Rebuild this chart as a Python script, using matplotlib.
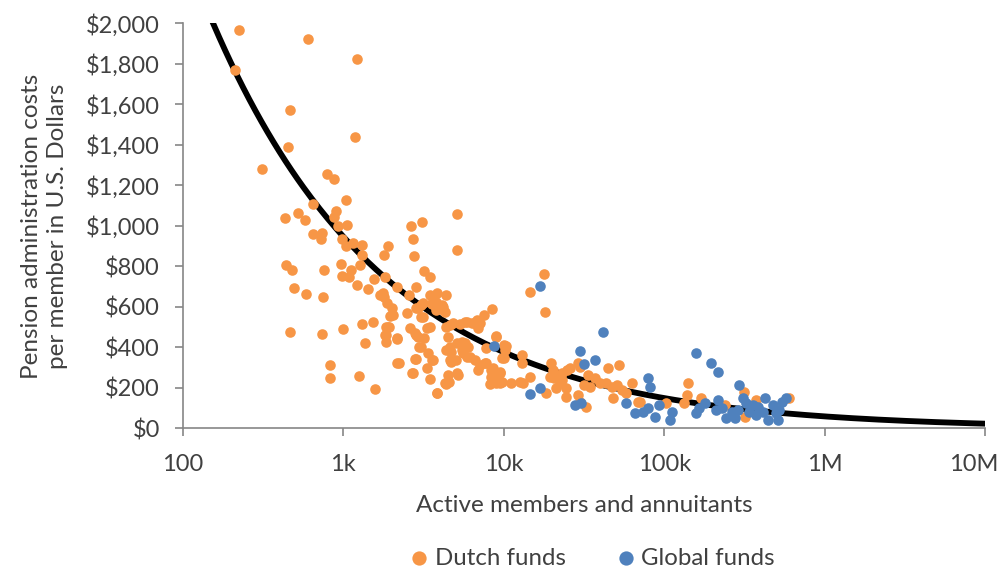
import numpy as np
import matplotlib
matplotlib.use('Agg')
import matplotlib.pyplot as plt
import matplotlib.transforms as mtransforms
from matplotlib.ticker import FuncFormatter, FixedLocator, NullLocator

plt.rcParams['font.family'] = ['Lato', 'DejaVu Sans']

# Dutch funds: members, cost per member ($)
dutch_members = [
    223, 598, 1208, 211, 467, 1175, 449, 309, 789, 869, 1032, 643, 902, 869, 523, 432, 575,
    929, 1056, 643, 738, 721, 984, 1032, 1151, 1298, 1308, 1268, 438, 480, 756, 960, 1109,
    984, 1082, 1549, 1208, 1428, 494, 584, 748, 1688, 1298, 1520, 464, 738, 1000, 1361,
    820, 829, 1250, 1578,
    5075, 2622, 3070, 2722, 2750, 5075, 1902, 1795, 3187, 3459, 1814, 2144, 2559, 2829,
    3459, 3840, 4351, 1786, 1875, 1996, 2045, 1950, 2476, 2924, 3150, 3594, 4090, 4180,
    3116, 8455, 7490, 6760, 5860, 5320, 4830, 4350, 1850, 1930, 1850, 1850, 2163, 2590,
    2784, 2920, 3064, 3298, 3459, 3380, 3549, 2829, 2217, 2700, 3298, 3480, 3840, 4351,
    4565, 5150, 4720, 4590, 4380, 5075, 5460, 5720, 5590, 6140, 6600, 6920, 7800, 8330,
    8530, 9440, 9680, 11170, 12590, 13200, 14550, 7700, 9000, 10300, 13070, 13070, 14660,
    17750, 18000,
    8930, 10060, 10230, 10060, 7600, 8530, 9440, 8330, 9190, 9440, 8150, 18450, 19800,
    20300, 19300, 20700, 22300, 21900, 23000, 24800, 25900, 24300, 29000, 29700, 29000,
    29700, 32700, 33500, 36800, 39800, 34400, 31800, 44700, 52300, 43500, 47100, 50600,
    54400, 48100, 58000, 63400, 68700,
    70300, 103000, 140000, 138000, 132000, 169000, 240000, 316000, 318000, 374000, 600000,
    1770, 3064, 2850, 3560, 3800, 4180, 4300, 3800, 3064, 1900, 1810, 2144, 2850, 3200,
    2980, 4590, 5720, 6300, 4500, 4720, 4590, 5460, 6000, 5860, 3640, 2170, 2800, 2680,
    4500, 5075, 4300, 3860, 5012,
    7100, 6530, 6920, 9800, 7080, 9000, 8930, 21200, 24300, 23000,
]
dutch_cost = [
    1969, 1923, 1825, 1771, 1572, 1440, 1387, 1279, 1256, 1229, 1130, 1109, 1071, 1043, 1063,
    1038, 1027, 997, 1005, 961, 967, 935, 935, 902, 915, 907, 857, 808, 808, 783, 780, 813,
    783, 753, 750, 737, 707, 688, 693, 664, 648, 659, 516, 528, 475, 467, 492, 421, 312, 248,
    259, 195,
    1058, 997, 1017, 935, 852, 882, 902, 857, 775, 747, 747, 698, 659, 700, 659, 668, 659,
    651, 621, 594, 561, 556, 572, 594, 618, 615, 610, 585, 549, 590, 561, 536, 528, 516, 520,
    503, 503, 503, 462, 429, 446, 495, 473, 453, 404, 495, 503, 371, 338, 342, 322, 273, 297,
    243, 177, 218, 231, 264, 330, 404, 388, 421, 388, 421, 371, 355, 338, 289, 322, 289, 240,
    273, 231, 223, 231, 223, 256, 396, 457, 409, 363, 322, 673, 763, 574,
    450, 412, 388, 347, 322, 297, 281, 256, 248, 223, 220, 174, 322, 289, 256, 248, 223, 259,
    273, 289, 297, 157, 322, 305, 165, 132, 108, 264, 248, 223, 206, 215, 297, 314, 223, 206,
    215, 190, 149, 174, 226, 132,
    132, 127, 223, 165, 124, 149, 116, 182, 55, 141, 149,
    668, 610, 594, 618, 626, 602, 577, 585, 552, 503, 462, 441, 462, 446, 404, 511, 528, 520,
    453, 379, 338, 429, 404, 355, 338, 325, 342, 276, 264, 273, 223, 177, 338,
    520, 520, 495, 347, 314, 264, 223, 198, 198, 240,
]

# Global funds
global_members = [
    8710, 16750, 14660, 16750, 27700, 30300, 29700, 31800, 36800, 41600, 58000, 79300, 81500,
    66000, 74000, 79300, 87500, 92500, 108000, 112000, 157000, 197000, 216000, 158000, 166000,
    180000, 216000, 210000, 228000, 244000, 264000, 277000, 290000, 292000, 312000, 325000,
    339000, 357000, 384000, 374000, 411000, 423000, 443000, 475000, 498000, 510000, 523000,
    546000, 572000,
]
global_cost = [
    409, 705, 169, 199, 116, 124, 384, 319, 338, 478, 124, 248, 203, 75, 83, 100, 58, 116, 42,
    83, 371, 322, 281, 75, 100, 124, 141, 91, 100, 50, 83, 50, 91, 215, 149, 127, 83, 116, 108,
    67, 83, 149, 42, 116, 75, 42, 91, 132, 149,
]

x_ticks = [100, 1e3, 1e4, 1e5, 1e6, 1e7]
x_tick_labels = ['100', '1k', '10k', '100k', '1M', '10M']

# power trendline  cost = A * members^B
TREND_A = 15000
TREND_B = -0.40
trend_x = np.logspace(2, 7, 400)
trend_y = TREND_A * trend_x ** TREND_B

grey = '#868686'
text_c = '#404040'
fs = 17

fig = plt.figure(figsize=(10.01, 5.72), dpi=100)
ax = fig.add_axes([0.1828, 0.2509, 0.8012, 0.7084])

ax.plot(trend_x, trend_y, color='black', lw=4.2, zorder=1)
ax.scatter(dutch_members, dutch_cost, s=58, color='#F79646', lw=0, zorder=2, label='Dutch funds')
ax.scatter(global_members, global_cost, s=58, color='#4F81BD', lw=0, zorder=3, label='Global funds')

ax.set_xscale('log')
ax.set_xlim(100, 1e7)
ax.set_ylim(0, 2000)
ax.xaxis.set_major_locator(FixedLocator(x_ticks))
ax.xaxis.set_minor_locator(NullLocator())
ax.set_xticklabels(x_tick_labels)
ax.set_yticks(np.arange(0, 2001, 200))
ax.yaxis.set_major_formatter(FuncFormatter(lambda v, p: '${:,.0f}'.format(v)))

for s in ['top', 'right']:
    ax.spines[s].set_visible(False)
for s in ['left', 'bottom']:
    ax.spines[s].set_color(grey)
    ax.spines[s].set_linewidth(1.2)
ax.tick_params(axis='both', colors=grey, length=5.5, width=1.2, labelsize=fs,
               labelcolor=text_c)
ax.tick_params(axis='x', pad=13)
ax.tick_params(axis='y', pad=11)

# keep the last x label inside the figure, as the original does
last = ax.get_xticklabels()[-1]
last.set_transform(last.get_transform() + mtransforms.ScaledTranslation(-11 / 100, 0, fig.dpi_scale_trans))

ax.set_xlabel('Active members and annuitants', fontsize=fs + 0.5, color=text_c)
ax.xaxis.set_label_coords(0.5, -0.163)
ax.set_ylabel('Pension administration costs\nper member in U.S. Dollars', fontsize=fs + 0.5,
              color=text_c, linespacing=1.3)
ax.yaxis.set_label_coords(-0.143, 0.5)

fig.legend(loc='center', bbox_to_anchor=(0.5915, 0.024), ncol=2, frameon=False,
           fontsize=fs + 0.3, labelcolor=text_c, handlelength=0.8, handletextpad=0.25,
           columnspacing=2.1, markerscale=1.35, borderpad=0.2)

fig.savefig('out.png', dpi=100)
